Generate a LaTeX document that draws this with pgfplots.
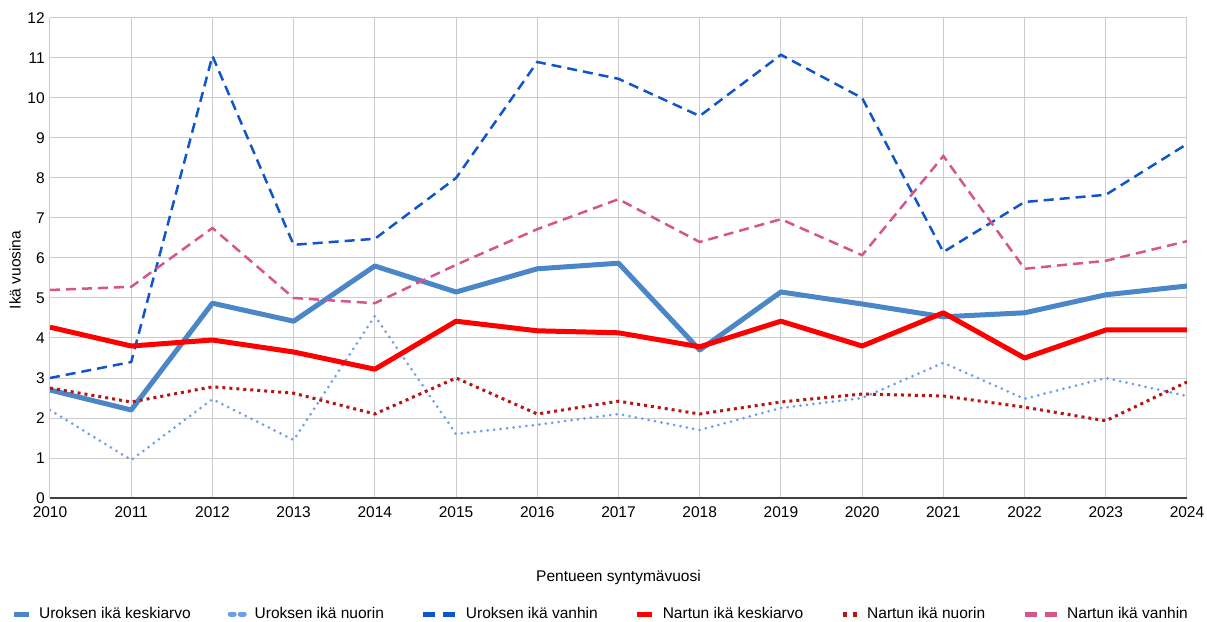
\documentclass[border=0pt]{standalone}
\usepackage{fontspec}
\setmainfont{Liberation Sans}
\usepackage{pgfplots}
\pgfplotsset{compat=1.18}

\definecolor{urosKa}{HTML}{4A86C8}
\definecolor{urosNu}{HTML}{6D9EEB}
\definecolor{urosVa}{HTML}{1155CC}
\definecolor{narttuKa}{HTML}{FF0000}
\definecolor{narttuNu}{HTML}{B81414}
\definecolor{narttuVa}{HTML}{D6558A}

\begin{document}
\fontsize{15.5pt}{18pt}\selectfont
\begin{tikzpicture}
\begin{axis}[
    scale only axis,
    width=1137pt,
    height=480pt,
    xmin=2010, xmax=2024,
    ymin=0, ymax=12,
    xtick={2010,2011,...,2024},
    ytick={0,1,...,12},
    /pgf/number format/assume math mode=true,
    xticklabel style={/pgf/number format/1000 sep=, yshift=-3pt},
    tick style={draw=none},
    axis line style={draw=none},
    grid=major,
    major grid style={draw=black!20, line width=1pt},
    xlabel={Pentueen syntymävuosi},
    ylabel={Ikä vuosina},
    xlabel style={at={(axis description cs:0.5,0)}, anchor=center, yshift=-79pt},
    ylabel style={at={(axis description cs:-0.0308,0.475)}, anchor=center},
    legend columns=6,
    legend style={at={(0.5,0)}, anchor=center, xshift=-18pt, yshift=-116pt,
        draw=none, fill=none, font=\fontsize{15.5pt}{18pt}\selectfont,
        /tikz/every odd column/.append style={column sep=6pt},
        /tikz/every even column/.append style={column sep=35pt}},
]
% bottom axis line
\draw[black!75, line width=1.5pt] (axis cs:2010,0) -- (axis cs:2024,0);

\addplot[urosKa, line width=5pt, line join=round,
    legend image code/.code={\draw[urosKa, line width=5pt] (0pt,0pt) -- (15pt,0pt);}]
coordinates {
    (2010,2.70) (2011,2.20) (2012,4.87) (2013,4.42) (2014,5.80)
    (2015,5.15) (2016,5.73) (2017,5.87) (2018,3.70) (2019,5.15)
    (2020,4.85) (2021,4.53) (2022,4.63) (2023,5.08) (2024,5.30)
};
\addlegendentry{Uroksen ikä keskiarvo}

\addplot[urosNu, line width=3pt, line cap=round, dash pattern=on 0pt off 6.5pt,
    legend image code/.code={\draw[urosNu, line width=5pt, dash pattern=on 4pt off 6pt] (0pt,0pt) -- (14pt,0pt);}]
coordinates {
    (2010,2.20) (2011,0.95) (2012,2.47) (2013,1.45) (2014,4.55)
    (2015,1.60) (2016,1.83) (2017,2.10) (2018,1.70) (2019,2.25)
    (2020,2.50) (2021,3.38) (2022,2.48) (2023,3.00) (2024,2.55)
};
\addlegendentry{Uroksen ikä nuorin}

\addplot[urosVa, line width=2.5pt, dash pattern=on 10pt off 6pt,
    legend image code/.code={\draw[urosVa, line width=5pt, dash pattern=on 12pt off 8pt] (0pt,0pt) -- (32pt,0pt);}]
coordinates {
    (2010,3.00) (2011,3.40) (2012,11.05) (2013,6.33) (2014,6.48)
    (2015,8.00) (2016,10.90) (2017,10.48) (2018,9.55) (2019,11.08)
    (2020,10.00) (2021,6.15) (2022,7.40) (2023,7.58) (2024,8.85)
};
\addlegendentry{Uroksen ikä vanhin}

\addplot[narttuKa, line width=5pt, line join=round,
    legend image code/.code={\draw[narttuKa, line width=5pt] (0pt,0pt) -- (15pt,0pt);}]
coordinates {
    (2010,4.27) (2011,3.80) (2012,3.95) (2013,3.65) (2014,3.22)
    (2015,4.42) (2016,4.18) (2017,4.13) (2018,3.78) (2019,4.42)
    (2020,3.80) (2021,4.63) (2022,3.50) (2023,4.20) (2024,4.20)
};
\addlegendentry{Nartun ikä keskiarvo}

\addplot[narttuNu, line width=3pt, dash pattern=on 3pt off 4pt,
    legend image code/.code={\draw[narttuNu, line width=5pt, dash pattern=on 4pt off 6pt] (0pt,0pt) -- (14pt,0pt);}]
coordinates {
    (2010,2.75) (2011,2.40) (2012,2.78) (2013,2.62) (2014,2.10)
    (2015,3.00) (2016,2.10) (2017,2.42) (2018,2.10) (2019,2.40)
    (2020,2.60) (2021,2.55) (2022,2.27) (2023,1.93) (2024,2.90)
};
\addlegendentry{Nartun ikä nuorin}

\addplot[narttuVa, line width=2.5pt, dash pattern=on 10pt off 6pt,
    legend image code/.code={\draw[narttuVa, line width=5pt, dash pattern=on 12pt off 8pt] (0pt,0pt) -- (32pt,0pt);}]
coordinates {
    (2010,5.20) (2011,5.28) (2012,6.75) (2013,5.00) (2014,4.87)
    (2015,5.83) (2016,6.72) (2017,7.47) (2018,6.40) (2019,6.97)
    (2020,6.07) (2021,8.55) (2022,5.73) (2023,5.93) (2024,6.42)
};
\addlegendentry{Nartun ikä vanhin}
\end{axis}
\pgfresetboundingbox
\path[use as bounding box] (-50pt,-123pt) rectangle (1157pt,498pt);
\end{tikzpicture}
\end{document}
